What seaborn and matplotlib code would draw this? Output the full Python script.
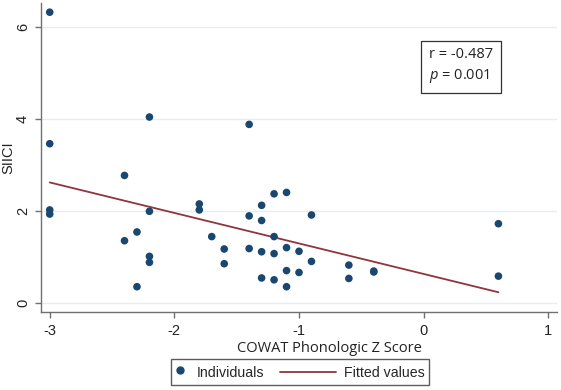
import numpy as np
import pandas as pd
import matplotlib
matplotlib.use("Agg")
import matplotlib.pyplot as plt
import seaborn as sns
from matplotlib.lines import Line2D
from matplotlib.legend_handler import HandlerBase

# ---- data ----
cowat_z = [-3.0, -3.0, -3.0, -3.0,
           -2.4, -2.4,
           -2.3, -2.3,
           -2.2, -2.2, -2.2, -2.2,
           -1.8, -1.8,
           -1.7,
           -1.6, -1.6,
           -1.4, -1.4, -1.4,
           -1.3, -1.3, -1.3, -1.3,
           -1.2, -1.2, -1.2, -1.2,
           -1.1, -1.1, -1.1, -1.1,
           -1.0, -1.0,
           -0.9, -0.9,
           -0.6, -0.6,
           -0.4, -0.4,
           0.6, 0.6]
siici = [6.32, 3.46, 2.02, 1.93,
         2.77, 1.35,
         1.54, 0.35,
         4.04, 1.99, 1.01, 0.88,
         2.15, 2.02,
         1.44,
         1.17, 0.85,
         3.88, 1.89, 1.18,
         2.12, 1.79, 1.11, 0.54,
         2.37, 1.44, 1.07, 0.50,
         2.40, 1.20, 0.70, 0.35,
         1.12, 0.66,
         1.91, 0.90,
         0.82, 0.53,
         0.69, 0.67,
         1.72, 0.58]
x_ticks = [-3, -2, -1, 0, 1]
y_ticks = [0, 2, 4, 6]
r_text = "r = -0.487"
p_label = "p"
p_value_text = " = 0.001"
legend_labels = ["Individuals", "Fitted values"]

df = pd.DataFrame({"z": cowat_z, "siici": siici})
slope, intercept = np.polyfit(df["z"], df["siici"], 1)
fit_x = [min(cowat_z), max(cowat_z)]
fit_df = pd.DataFrame({"z": fit_x, "fit": [intercept + slope * v for v in fit_x]})

navy = "#1a476f"
maroon = "#90353b"
axis_gray = "#707070"

sns.set_theme(style="white")
plt.rcParams["font.family"] = ["Liberation Sans", "DejaVu Sans"]
plt.rcParams["mathtext.fontset"] = "custom"
plt.rcParams["mathtext.it"] = "Open Sans:italic"
plt.rcParams["mathtext.rm"] = "Open Sans"

fig = plt.figure(figsize=(5.61, 3.90), dpi=100)
ax = fig.add_axes([41 / 561, 1 - 312 / 390, (557 - 41) / 561, (312 - 3) / 390])

sns.scatterplot(data=df, x="z", y="siici", ax=ax, color=navy, s=30,
                edgecolor="none", zorder=3, legend=False)
sns.lineplot(data=fit_df, x="z", y="fit", ax=ax, color=maroon, lw=1.3,
             zorder=2, legend=False)

ax.set_xlim(-3.07, 1.07)
ax.set_ylim(-0.2, 6.52)
ax.set_xticks(x_ticks)
ax.set_yticks(y_ticks)
ax.set_xticklabels([str(t) for t in x_ticks], fontsize=10.5)
ax.set_yticklabels([str(t) for t in y_ticks], fontsize=10.5, rotation=90, va="center")
ax.yaxis.grid(True, color="#e4eef1", lw=1.0)
ax.xaxis.grid(False)
for side in ["top", "right"]:
    ax.spines[side].set_visible(False)
for side in ["left", "bottom"]:
    ax.spines[side].set_color(axis_gray)
    ax.spines[side].set_linewidth(1.0)
ax.tick_params(axis="both", direction="out", length=4.3, width=1, color=axis_gray,
               bottom=True, left=True, labelcolor="#222222")
ax.tick_params(axis="x", pad=4.3)
ax.tick_params(axis="y", pad=3.6)
ax.set_xlabel("COWAT Phonologic Z Score", fontsize=10.5,
              family=["Open Sans", "DejaVu Sans"], color="#222222", va="baseline")
ax.xaxis.set_label_coords((329.5 - 41) / 516, (312 - 352.5) / 309)
ax.set_ylabel("SIICI", fontsize=10.5, color="#222222")
ax.yaxis.set_label_coords((15 - 41) / 516, 0.5)

ax.text(0.045, 5.15, r_text + "\n" + r"$\mathit{" + p_label + "}$" + p_value_text,
        fontsize=10.5, family=["Open Sans", "DejaVu Sans"], va="center", ha="left",
        linespacing=1.35, color="#222222",
        bbox=dict(boxstyle="square,pad=0.55", fc="white", ec="#333333", lw=0.9))


class LongLineHandler(HandlerBase):
    """Draw the fitted-line key as a long line ending just before its label."""
    def create_artists(self, legend, orig_handle, xdescent, ydescent, width,
                       height, fontsize, trans):
        y = height / 2.0 - ydescent
        line = Line2D([width - 37, width + 3.5], [y, y], color=orig_handle.get_color(),
                      lw=orig_handle.get_linewidth(), transform=trans)
        return [line]


marker_handle = Line2D([], [], marker="o", ls="none", color=navy, markersize=5)
line_handle = Line2D([], [], color=maroon, lw=1.3)
fig.legend([marker_handle, line_handle], legend_labels, loc="center",
           bbox_to_anchor=(300 / 561, 1 - 372 / 390), ncol=2, fontsize=10.2,
           frameon=True, fancybox=False, edgecolor="#333333", handlelength=0.6,
           handleheight=1.5, columnspacing=4.1, borderpad=0.3, handletextpad=0.9,
           numpoints=1, handler_map={line_handle: LongLineHandler()})

fig.savefig("out.png", dpi=100, facecolor="white")
